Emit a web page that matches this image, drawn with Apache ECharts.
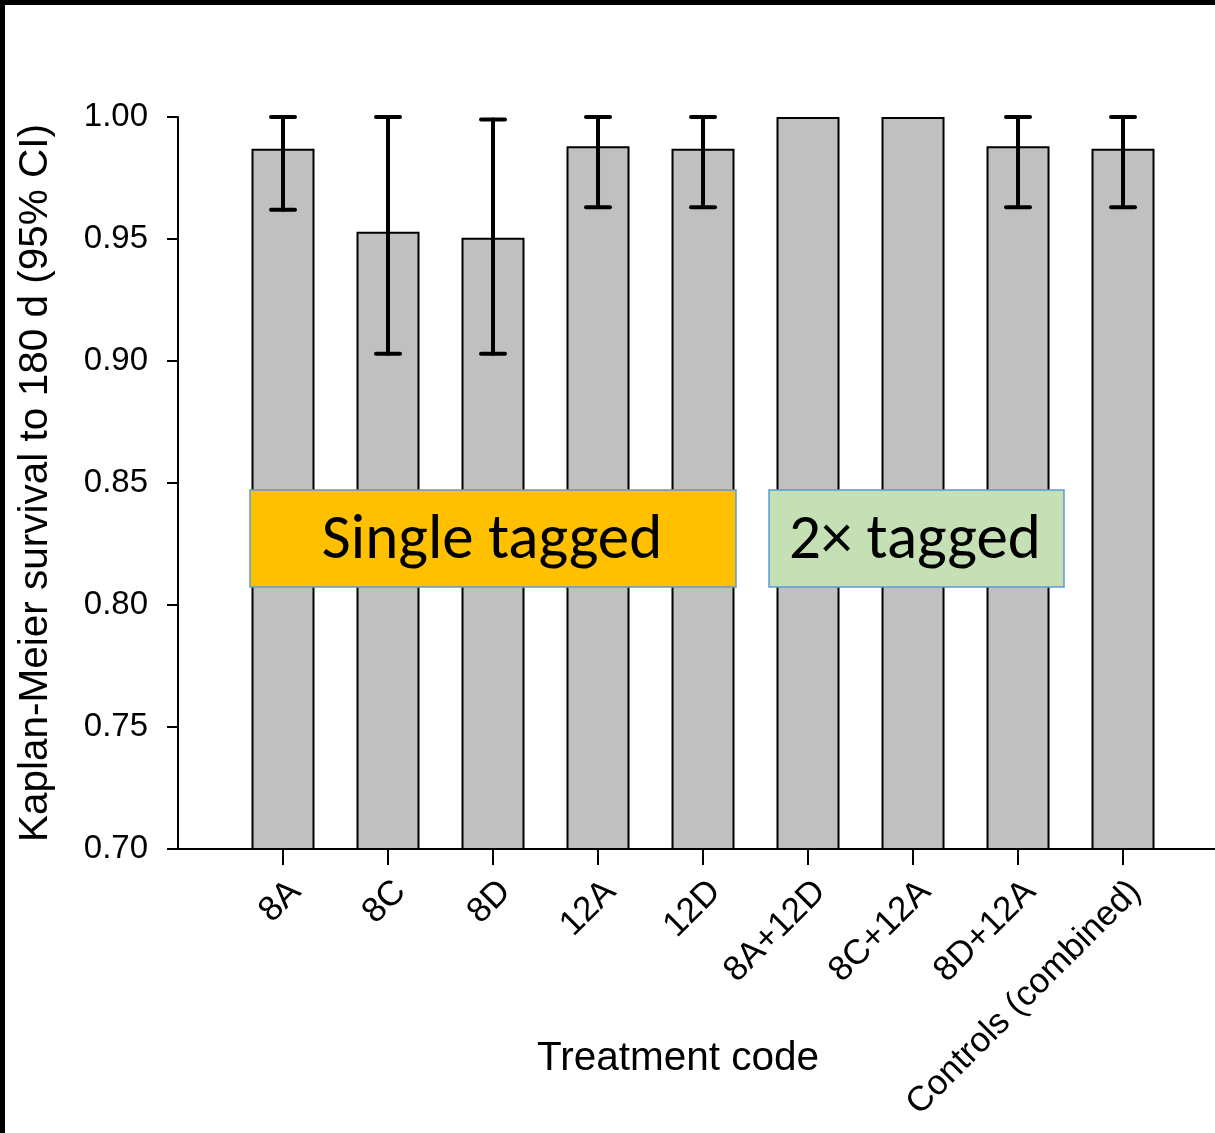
<!DOCTYPE html>
<html>
<head>
<meta charset="utf-8">
<style>html,body{margin:0;padding:0;background:#fff;}#chart{width:1215px;height:1133px;}</style>
<script src="https://cdn.jsdelivr.net/npm/echarts@6/dist/echarts.min.js"></script>
</head>
<body>
<div id="chart"></div>
<script>
const categories = ['8A','8C','8D','12A','12D','8A+12D','8C+12A','8D+12A','Controls (combined)'];
const survival = [0.987, 0.953, 0.9505, 0.988, 0.987, 1.000, 1.000, 0.988, 0.987];
const ciLower = [0.962, 0.903, 0.903, 0.963, 0.963, null, null, 0.963, 0.963];
const ciUpper = [1.000, 1.000, 0.999, 1.000, 1.000, null, null, 1.000, 1.000];
const yTicks = [0.70, 0.75, 0.80, 0.85, 0.90, 0.95, 1.00];

const positions = categories.map((c, i) => i + 1);
const barData = survival.map((v, i) => [positions[i], v]);
const errData = [];
ciLower.forEach((lo, i) => { if (lo !== null) errData.push([positions[i], lo, ciUpper[i]]); });

const FONT = '"Liberation Sans", Arial, sans-serif';
const BOXFONT = 'Carlito, Calibri, Lato, sans-serif';

const chart = echarts.init(document.getElementById('chart'));
chart.setOption({
  animation: false,
  backgroundColor: '#fff',
  grid: { left: 178, top: 117, right: 0, height: 732, containLabel: false },
  xAxis: {
    type: 'value', min: 0, max: 9.876, interval: 1,
    splitLine: { show: false },
    axisLine: { show: true, lineStyle: { color: '#000', width: 2 } },
    axisTick: { show: true, length: 16, customValues: positions, lineStyle: { color: '#000', width: 2 } },
    axisLabel: {
      show: true, customValues: positions, rotate: 45, margin: 25, verticalAlign: 'top',
      fontSize: 35, fontFamily: FONT, color: '#000',
      formatter: v => categories[Math.round(v) - 1] || ''
    }
  },
  yAxis: {
    type: 'value', min: 0.70, max: 1.00, interval: 0.05,
    splitLine: { show: false },
    axisLine: { show: true, lineStyle: { color: '#000', width: 2 } },
    axisTick: { show: true, length: 11, lineStyle: { color: '#000', width: 2 } },
    axisLabel: {
      margin: 30, fontSize: 33, fontFamily: FONT, color: '#000',
      formatter: v => v.toFixed(2)
    },
    name: 'Kaplan-Meier survival to 180 d (95% CI)',
    nameLocation: 'middle', nameGap: 122, nameRotate: 90,
    nameTextStyle: { fontSize: 40.5, fontFamily: FONT, color: '#000' }
  },
  series: [
    {
      type: 'bar', data: barData, barWidth: 63, clip: true,
      itemStyle: { color: '#c0c0c0', borderColor: '#000', borderWidth: 2 }, z: 2
    },
    {
      type: 'custom', data: errData, z: 3,
      renderItem: function (params, api) {
        const x = api.value(0);
        const lo = api.coord([x, api.value(1)]);
        const hi = api.coord([x, api.value(2)]);
        const cw = 12;
        const st = { stroke: '#000', lineWidth: 4, lineCap: 'round' };
        return {
          type: 'group',
          children: [
            { type: 'line', shape: { x1: lo[0], y1: lo[1], x2: hi[0], y2: hi[1] }, style: st },
            { type: 'line', shape: { x1: lo[0] - cw, y1: lo[1], x2: lo[0] + cw, y2: lo[1] }, style: st },
            { type: 'line', shape: { x1: hi[0] - cw, y1: hi[1], x2: hi[0] + cw, y2: hi[1] }, style: st }
          ]
        };
      }
    }
  ],
  graphic: [
    { type: 'rect', zlevel: 1, shape: { x: 0, y: 0, width: 1215, height: 5 }, style: { fill: '#000' } },
    { type: 'rect', zlevel: 1, shape: { x: 0, y: 0, width: 5, height: 1133 }, style: { fill: '#000' } },
    { type: 'rect', zlevel: 1, z: 10, shape: { x: 250, y: 490, width: 486, height: 97 }, style: { fill: '#ffc000', stroke: '#5b9bd5', lineWidth: 1.5 } },
    { type: 'text', zlevel: 1, z: 11, x: 492, y: 542, style: { text: 'Single tagged', fill: '#000', font: '63px ' + BOXFONT, textAlign: 'center', textVerticalAlign: 'middle' } },
    { type: 'rect', zlevel: 1, z: 10, shape: { x: 769, y: 490, width: 295, height: 97 }, style: { fill: '#c5e0b4', stroke: '#5b9bd5', lineWidth: 1.5 } },
    { type: 'text', zlevel: 1, z: 11, x: 915, y: 542, style: { text: '2× tagged', fill: '#000', font: '63px ' + BOXFONT, textAlign: 'center', textVerticalAlign: 'middle' } },
    { type: 'text', zlevel: 1, x: 678, y: 1059, style: { text: 'Treatment code', fill: '#000', font: '40.5px ' + FONT, textAlign: 'center', textVerticalAlign: 'middle' } }
  ]
});
</script>
</body>
</html>
